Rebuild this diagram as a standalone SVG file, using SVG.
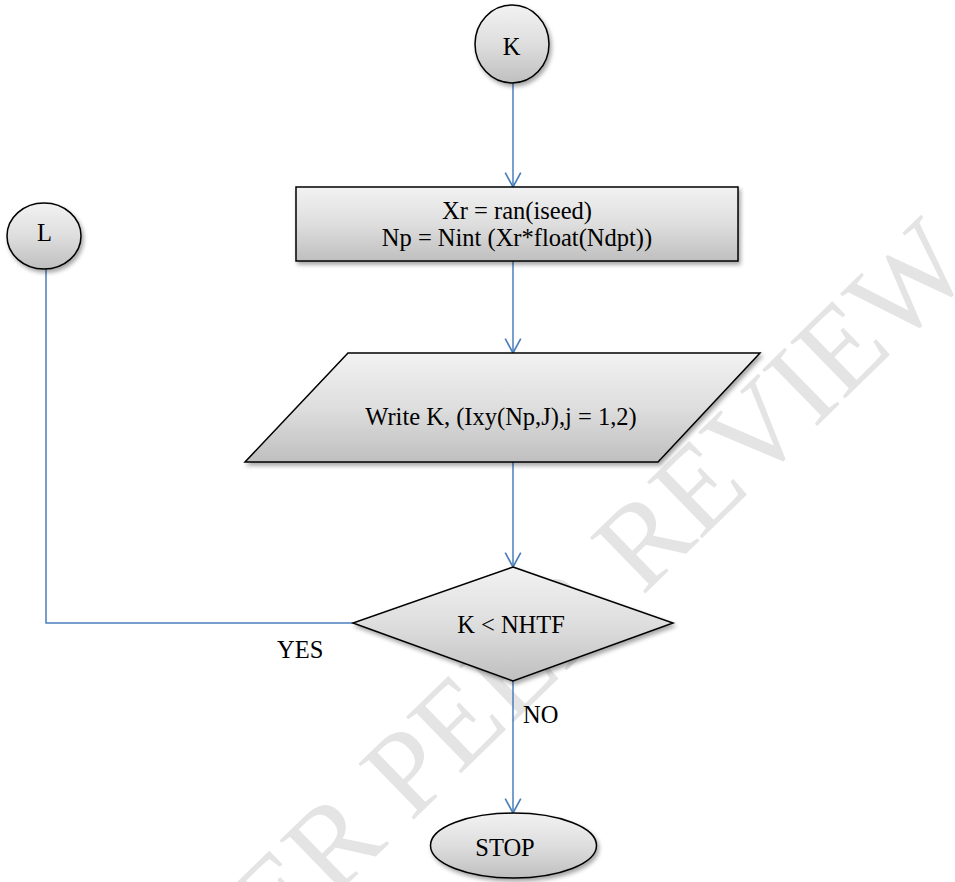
<svg xmlns="http://www.w3.org/2000/svg" width="955" height="882" viewBox="0 0 955 882">
  <defs>
    <linearGradient id="shade" x1="0" y1="0" x2="0" y2="1">
      <stop offset="0" stop-color="#f2f2f2"/>
      <stop offset="0.5" stop-color="#dedede"/>
      <stop offset="1" stop-color="#bfbfbf"/>
    </linearGradient>
    <filter id="drop" x="-20%" y="-20%" width="140%" height="150%">
      <feDropShadow dx="2" dy="3" stdDeviation="2" flood-color="#000" flood-opacity="0.35"/>
    </filter>
    <marker id="vee" markerUnits="userSpaceOnUse" markerWidth="20" markerHeight="20" viewBox="-15 -9 17 18" refX="0" refY="0" orient="auto">
      <path d="M-13,-7 L0,0 L-13,7" fill="none" stroke="#4a7ebb" stroke-width="1.5"/>
    </marker>
    <style>
      .shape { fill: url(#shade); stroke: #000; stroke-width: 1.5; filter: url(#drop); }
      .label { font-family: "Liberation Serif", "Times New Roman", serif; font-size: 24.5px; fill: #000; text-anchor: middle; }
      .free { font-family: "Liberation Serif", "Times New Roman", serif; font-size: 24.5px; fill: #000; }
      .wire { fill: none; stroke: #4a7ebb; stroke-width: 1.5; }
      .mark { font-family: "Liberation Serif", "Times New Roman", serif; font-size: 120px; fill: #e4e4e4; }
    </style>
  </defs>

  <rect width="955" height="882" fill="#fff"/>

  <!-- background stamp -->
  <text class="mark" transform="translate(279.6,950.5) rotate(-44.3)" x="-260" y="0">UNDER PEER REVIEW</text>

  <g id="connectors">
    <path class="wire" d="M513,83 V187" marker-end="url(#vee)"/>
    <path class="wire" d="M513,261 V353" marker-end="url(#vee)"/>
    <path class="wire" d="M513,462 V567" marker-end="url(#vee)"/>
    <path class="wire" d="M513,681 V813" marker-end="url(#vee)"/>
    <path class="wire" d="M353,623 H46 V269"/>
    <text class="free" x="277" y="658">YES</text>
    <text class="free" x="523" y="723">NO</text>
  </g>

  <g id="node-k">
    <ellipse class="shape" cx="512" cy="44" rx="37" ry="39"/>
    <text class="label" x="511.5" y="55">K</text>
  </g>

  <g id="node-l">
    <ellipse class="shape" cx="44" cy="236" rx="37" ry="33"/>
    <text class="label" x="44.5" y="241">L</text>
  </g>

  <g id="node-random">
    <rect class="shape" x="296" y="187" width="442" height="74"/>
    <text class="label" x="517" y="219">Xr = ran(iseed)</text>
    <text class="label" x="517" y="246">Np = Nint (Xr*float(Ndpt))</text>
  </g>

  <g id="node-write">
    <polygon class="shape" points="348,353 760,353 658,462 245,462"/>
    <text class="label" x="501" y="425">Write K, (Ixy(Np,J),j = 1,2)</text>
  </g>

  <g id="node-test">
    <polygon class="shape" points="513,567 673,623 513,681 353,623"/>
    <text class="label" x="511" y="633">K &lt; NHTF</text>
  </g>

  <g id="node-stop">
    <ellipse class="shape" cx="513.5" cy="845.5" rx="83" ry="32.5"/>
    <text class="label" x="505" y="856">STOP</text>
  </g>
</svg>
